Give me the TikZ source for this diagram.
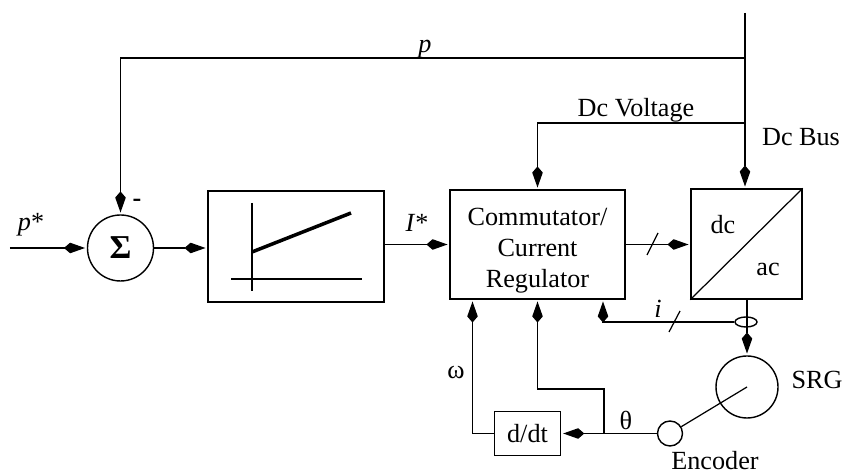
\documentclass[tikz,border=0pt]{standalone}
\usepackage{fontspec}
\setmainfont{Liberation Serif}
\usepackage{tikz}
\usetikzlibrary{arrows.meta, positioning, shapes.geometric}

\tikzset{
    wire/.style={line width=0.7pt},
    flow/.style={wire,-{Kite[length=12pt,width=6pt,inset=3.5pt]},shorten >=1pt},
    blockbox/.style={draw,line width=0.8pt,inner sep=0pt},
    sumcircle/.style={draw,circle,line width=0.8pt,inner sep=0pt},
    txt/.style={font=\fontsize{14.9}{17.6}\selectfont,inner sep=0pt}
}

\begin{document}
\begin{tikzpicture}

    \useasboundingbox (0,0) rectangle (16.86,9.48);

    % Blocks of the forward path
    \node[sumcircle,minimum size=1.32cm,font=\fontsize{19}{20}\selectfont] (sigma) at (2.41,4.52) {\textbf{Σ}};
    \node[blockbox,minimum width=3.52cm,minimum height=2.22cm] (limiter) at (5.92,4.55) {};
    \node[blockbox,minimum width=3.5cm,minimum height=2.18cm] (comm) at (10.75,4.59) {};
    \node[txt,align=center] (lblcomm) at (10.75,4.47) {Commutator/\\Current\\Regulator};
    \node[blockbox,minimum width=2.22cm,minimum height=2.2cm] (conv) at (14.93,4.60) {};
    \node[sumcircle,minimum size=1.24cm] (srg) at (14.94,1.74) {};
    \node[sumcircle,minimum size=0.5cm] (enc) at (13.4,0.81) {};
    \node[blockbox,minimum width=1.33cm,minimum height=0.88cm,txt] (ddt) at (10.55,0.81) {d/dt};
    \node[draw,ellipse,line width=0.8pt,inner sep=0pt,minimum width=0.44cm,minimum height=0.2cm] (sensor) at (14.92,3.04) {};

    % Free ends and branch points
    \coordinate (start) at (0.2,4.52);
    \coordinate (bustop) at (14.9,9.22);
    \coordinate (tapp) at (14.9,8.32);
    \coordinate (tapv) at (14.9,7.02);
    \coordinate (tapt) at (12.08,0.81);
    \coordinate (bend) at (12.08,1.70);

    % Sketch inside the limiter block
    \draw[wire] (5.04,5.42) -- (5.04,3.66);
    \draw[wire] (4.62,3.90) -- (7.24,3.90);
    \draw[line width=2pt] (5.04,4.44) -- (7.02,5.22);

    % Dc bus and feedback
    \draw[wire] (bustop) -- (tapv);
    \draw[flow] (tapp) -| (sigma.north);
    \draw[flow] (tapv) -| (comm.north);
    \draw[flow] (tapv) -- (tapv |- conv.north);

    % Forward path
    \draw[flow] (start) -- (sigma.west);
    \draw[flow] (sigma.east) -- (sigma.east -| limiter.west);
    \draw[flow] (comm.west -| limiter.east) -- (comm.west);
    \draw[flow] (comm.east) -- (comm.east -| conv.west);
    \draw[wire] (conv.south west) -- (conv.north east);
    \draw[flow] (conv.south -| srg.north) -- (srg.north);

    % Measurements back to the regulator
    \draw[flow] (sensor.west) -| ([xshift=1.31cm]comm.south);
    \draw[wire] (srg.center) -- (enc);
    \draw[flow] (enc.west) -- (ddt.east);
    \draw[flow] (tapt) -- (bend) -| (comm.south);
    \draw[flow] (ddt.west) -| ([xshift=-1.3cm]comm.south);

    % Bus width marks
    \draw[wire] (12.94,4.38) -- (13.16,4.82);
    \draw[wire] (13.38,2.84) -- (13.6,3.26);

    % Labels
    \node[txt] (lblp) at (8.5,8.5) {\textit{p}};
    \node[txt] (lblpstar) at (0.62,4.98) {\textit{p}*};
    \node[txt] (lblminus) at (2.74,5.42) {\textbf{-}};
    \node[txt] (lblistar) at (8.34,5.02) {\textit{I}*};
    \node[txt] (lblvolt) at (12.72,7.28) {Dc Voltage};
    \node[txt] (lblbus) at (16.02,6.74) {Dc Bus};
    \node[txt] (lbldc) at (14.46,4.98) {dc};
    \node[txt] (lblac) at (15.36,4.1) {ac};
    \node[txt] (lbli) at (13.16,3.3) {\textit{i}};
    \node[txt] (lblsrg) at (16.34,1.88) {SRG};
    \node[txt] (lblenc) at (14.3,0.26) {Encoder};
    \node[txt] (lbltheta) at (12.52,1.08) {θ};
    \node[txt] (lblomega) at (9.12,2.03) {ω};

\end{tikzpicture}
\end{document}
